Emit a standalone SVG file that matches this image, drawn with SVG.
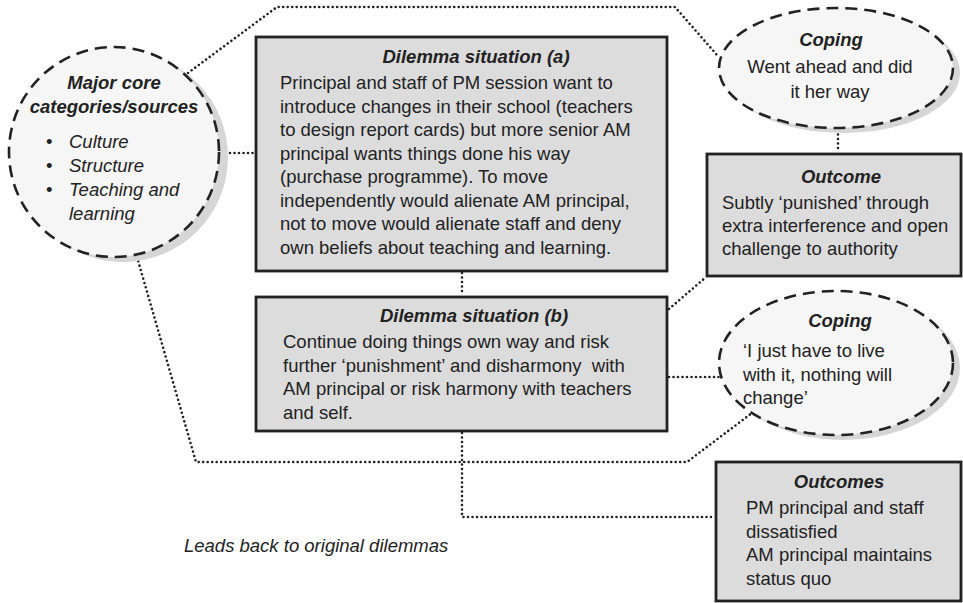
<svg xmlns="http://www.w3.org/2000/svg" width="963" height="603" viewBox="0 0 963 603">
  <defs>
    <style>
      text { font-family: "Liberation Sans", Arial, sans-serif; font-size: 18.5px; fill: #222; }
      .title { font-weight: bold; font-style: italic; text-anchor: middle; }
      .it { font-style: italic; }
      .mid { text-anchor: middle; }
      .box { fill: #dcdcdd; stroke: #222; stroke-width: 2.8; }
      .bubble { fill: #f6f6f6; stroke: #222; stroke-width: 2.6; stroke-dasharray: 12 7; }
      .shadow { fill: #d6d6d6; }
      .dot { fill: none; stroke: #1e1e1e; stroke-width: 2.6; stroke-linecap: round; stroke-dasharray: 0 4.5; }
    </style>
  </defs>

  <!-- dotted connectors -->
  <g id="connectors">
    <polyline class="dot" points="188,73 277,7 675,7 717,55"/>
    <line class="dot" x1="221" y1="153" x2="255" y2="153"/>
    <line class="dot" x1="462" y1="273" x2="462" y2="295"/>
    <polyline class="dot" points="462,433 462,517 715,517"/>
    <polyline class="dot" points="137,257 196,462 687,462 752,413"/>
    <line class="dot" x1="669" y1="377" x2="719" y2="377"/>
    <line class="dot" x1="669" y1="309" x2="705" y2="278"/>
    <line class="dot" x1="838" y1="130" x2="838" y2="152"/>
  </g>

  <!-- left circle: core categories -->
  <g id="core-categories">
    <circle class="shadow" cx="123" cy="157" r="105"/>
    <circle class="bubble" cx="114" cy="152" r="105"/>
    <text class="title" x="114" y="89">Major core</text>
    <text class="title" x="114" y="113">categories/sources</text>
    <text x="46" y="148">•</text>
    <text class="it" x="69" y="148">Culture</text>
    <text x="46" y="172">•</text>
    <text class="it" x="69" y="172">Structure</text>
    <text x="46" y="196">•</text>
    <text class="it" x="69" y="196">Teaching and</text>
    <text class="it" x="69" y="220">learning</text>
  </g>

  <!-- dilemma (a) -->
  <g id="dilemma-a">
    <rect class="box" x="256" y="37" width="411" height="234"/>
    <text class="title" x="476" y="63">Dilemma situation (a)</text>
    <text x="280" y="89">Principal and staff of PM session want to</text>
    <text x="280" y="112.5">introduce changes in their school (teachers</text>
    <text x="280" y="136">to design report cards) but more senior AM</text>
    <text x="280" y="159.5">principal wants things done his way</text>
    <text x="280" y="183">(purchase programme). To move</text>
    <text x="280" y="206.5">independently would alienate AM principal,</text>
    <text x="280" y="230">not to move would alienate staff and deny</text>
    <text x="280" y="253.5">own beliefs about teaching and learning.</text>
  </g>

  <!-- coping 1 -->
  <g id="coping-1">
    <ellipse class="shadow" cx="843" cy="73" rx="117" ry="60"/>
    <ellipse class="bubble" cx="836" cy="68" rx="117" ry="60"/>
    <text class="title" x="831" y="46">Coping</text>
    <text class="mid" x="830" y="73">Went ahead and did</text>
    <text class="mid" x="830" y="98">it her way</text>
  </g>

  <!-- outcome -->
  <g id="outcome">
    <rect class="box" x="707" y="154" width="254" height="122"/>
    <text class="title" x="841" y="183">Outcome</text>
    <text x="722" y="209">Subtly ‘punished’ through</text>
    <text x="722" y="232">extra interference and open</text>
    <text x="722" y="255">challenge to authority</text>
  </g>

  <!-- dilemma (b) -->
  <g id="dilemma-b">
    <rect class="box" x="256" y="297" width="411" height="134"/>
    <text class="title" x="474" y="322">Dilemma situation (b)</text>
    <text x="283" y="348" xml:space="preserve">Continue doing things own way and risk</text>
    <text x="283" y="371.5" xml:space="preserve">further ‘punishment’ and disharmony  with</text>
    <text x="283" y="395" xml:space="preserve">AM principal or risk harmony with teachers</text>
    <text x="283" y="418.5">and self.</text>
  </g>

  <!-- coping 2 -->
  <g id="coping-2">
    <ellipse class="shadow" cx="843" cy="368" rx="117" ry="72"/>
    <ellipse class="bubble" cx="836" cy="363" rx="117" ry="72"/>
    <text class="title" x="840" y="327">Coping</text>
    <text x="743" y="357">‘I just have to live</text>
    <text x="743" y="381">with it, nothing will</text>
    <text x="743" y="404">change’</text>
  </g>

  <!-- outcomes -->
  <g id="outcomes">
    <rect class="box" x="716" y="462" width="245" height="139"/>
    <text class="title" x="839" y="488">Outcomes</text>
    <text x="746" y="514">PM principal and staff</text>
    <text x="746" y="538">dissatisfied</text>
    <text x="746" y="561">AM principal maintains</text>
    <text x="746" y="585">status quo</text>
  </g>

  <!-- free note -->
  <g id="note">
    <text class="it" x="184" y="552">Leads back to original dilemmas</text>
  </g>
</svg>
